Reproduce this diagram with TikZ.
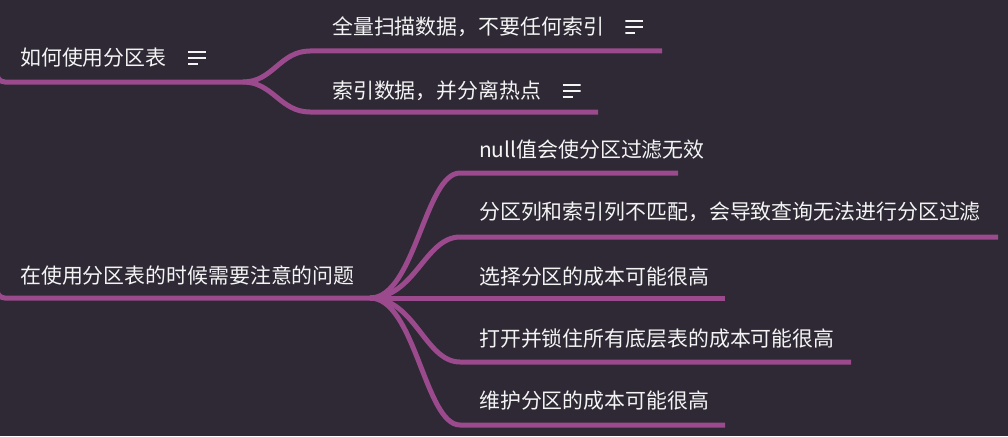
\documentclass[tikz,border=0pt]{standalone}
\usepackage{fontspec}
\setmainfont{Noto Sans CJK SC}
\usepackage{xcolor}
\definecolor{bgdark}{HTML}{2E2934}
\definecolor{plum}{HTML}{9B4A8D}
\definecolor{ink}{HTML}{F4F4F4}
\usepackage{tikz}
\usetikzlibrary{positioning}

\begin{document}
\begin{tikzpicture}[
  x=1pt,y=-1pt,
  topic/.style={anchor=west,inner sep=0pt,text=ink,font=\fontsize{20.9}{24}\selectfont},
  icon/.style={minimum width=18pt,minimum height=14pt,inner sep=0pt,
    path picture={
      \draw[ink,line width=2pt]
        ([yshift=-1pt]path picture bounding box.north west) -- ++(18pt,0pt)
        ([yshift=-7pt]path picture bounding box.north west) -- ++(18pt,0pt)
        ([yshift=-13pt]path picture bounding box.north west) -- ++(10pt,0pt);
    }},
  br/.style={draw=plum,line width=5pt}
]
\fill[bgdark] (0,0) rectangle (1008,436);
\useasboundingbox (0,0) rectangle (1008,436);
\clip (0,0) rectangle (1008,436);

% first topic
\node[topic] (p1) at (20,58) {如何使用分区表};
\node[icon,right=21pt of p1] (p1i) {};
\node[topic] (a1) at (332,27) {全量扫描数据，不要任何索引};
\node[icon,right=21pt of a1] (a1i) {};
\node[topic] (a2) at (332,91) {索引数据，并分离热点};
\node[icon,right=21pt of a2] (a2i) {};

\coordinate (j1) at (243,82);
\coordinate (a1s) at (310,51);
\coordinate (a1e) at (662,51);
\coordinate (a2s) at (310,112);
\coordinate (a2e) at (598,112);

\draw[br,rounded corners=8pt] (-3,72) |- (j1);
\draw[br] (j1) .. controls +(30,0) and +(-30,0) .. (a1s) -- (a1e);
\draw[br] (j1) .. controls +(30,0) and +(-30,0) .. (a2s) -- (a2e);

% second topic
\node[topic] (p2) at (20,276) {在使用分区表的时候需要注意的问题};
\node[topic] (b1) at (479,150) {null值会使分区过滤无效};
\node[topic] (b2) at (479,212) {分区列和索引列不匹配，会导致查询无法进行分区过滤};
\node[topic] (b3) at (479,276.5) {选择分区的成本可能很高};
\node[topic] (b4) at (479,339) {打开并锁住所有底层表的成本可能很高};
\node[topic] (b5) at (479,401) {维护分区的成本可能很高};

\coordinate (j2) at (370,298);
\coordinate (b1s) at (460,173);
\coordinate (b1e) at (678,173);
\coordinate (b2s) at (460,237);
\coordinate (b2e) at (998,237);
\coordinate (b3e) at (725,298);
\coordinate (b4s) at (460,362);
\coordinate (b4e) at (851,362);
\coordinate (b5s) at (460,425);
\coordinate (b5e) at (725,425);

\draw[br,rounded corners=8pt] (-3,288) |- (j2);
\draw[br] (j2) .. controls +(45,0) and +(-35,0) .. (b1s) -- (b1e);
\draw[br] (j2) .. controls +(45,0) and +(-35,0) .. (b2s) -- (b2e);
\draw[br] (j2) -- (b3e);
\draw[br] (j2) .. controls +(45,0) and +(-35,0) .. (b4s) -- (b4e);
\draw[br] (j2) .. controls +(45,0) and +(-35,0) .. (b5s) -- (b5e);
\end{tikzpicture}
\end{document}
